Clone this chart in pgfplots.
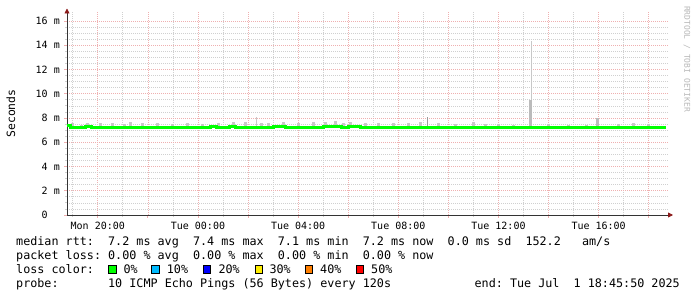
\documentclass[border=0pt]{standalone}
\usepackage{fontspec}
\setmainfont{DejaVu Sans Mono}
\setmonofont{DejaVu Sans Mono}
\usepackage{pgfplots}
\pgfplotsset{compat=1.18}
\usetikzlibrary{arrows.meta}
\definecolor{mgrid}{HTML}{EFB0B0}
\definecolor{ngrid}{HTML}{D0D0D0}
\definecolor{smoke}{HTML}{C8C8C8}
\definecolor{smokem}{HTML}{BBBBBB}
\definecolor{smoked}{HTML}{9A9A9A}
\definecolor{rttgreen}{HTML}{00FF00}
\definecolor{arrowred}{HTML}{8B1A1A}
\definecolor{lossA}{HTML}{00FF00}
\definecolor{lossB}{HTML}{00BBFF}
\definecolor{lossC}{HTML}{0000FF}
\definecolor{lossD}{HTML}{FFEE00}
\definecolor{lossE}{HTML}{FF7F00}
\definecolor{lossF}{HTML}{FF0000}
\newcommand\legfont{\ttfamily\fontsize{11.75}{14}\selectfont}
\newcommand\axfont{\ttfamily\fontsize{10}{12}\selectfont}
\pgfplotsset{smokebar/.style 2 args={draw=none, mark=none, forget plot,
  error bars/.cd, y dir=plus, y explicit, error mark=none,
  error bar style={draw=#1, line width=#2, solid}}}
\begin{document}
\begin{tikzpicture}
\useasboundingbox (0,0) rectangle (697pt,297pt);
\begin{axis}[
  at={(67pt,82pt)}, anchor=south west,
  scale only axis, width=601pt, height=202.5pt,
  xmin=18.77, xmax=42.77, ymin=0, ymax=16.7,
  axis lines=left,
  axis line style={draw=black!80, line width=0.8pt},
  x axis line style={-{Triangle[length=5pt,width=5pt,color=arrowred]}, shorten >=-5pt},
  y axis line style={-{Triangle[length=5pt,width=5pt,color=arrowred]}, shorten >=-4pt},
  xtick={18,20,...,42},
  xticklabels={,Mon 20:00,,Tue 00:00,,Tue 04:00,,Tue 08:00,,Tue 12:00,,Tue 16:00,},
  minor x tick num=1,
  ytick={0,2,...,16},
  yticklabels={0\phantom{\ m},2 m,4 m,6 m,8 m,10 m,12 m,14 m,16 m},
  minor y tick num=3,
  grid=both,
  major grid style={draw=mgrid, dash pattern=on 1pt off 1pt, line width=0.7pt},
  minor grid style={draw=ngrid, dash pattern=on 1pt off 1pt, line width=0.7pt},
  tick align=outside,
  major tick length=3pt, minor tick length=2pt,
  tick style={line width=0.8pt},
  major tick style={draw=mgrid},
  minor tick style={draw=ngrid},
  tick label style={font=\axfont, inner sep=0pt},
  xticklabel style={yshift=-4pt},
  yticklabel style={xshift=-4pt},
  clip=false,
]
% smoke (light)
\addplot[smokebar={smoke}{3pt}]
coordinates {
(19.00,7.2) +- (0,0.35)
(19.35,7.2) +- (0,0.25)
(19.60,7.2) +- (0,0.40)
(20.10,7.2) +- (0,0.35)
(20.60,7.2) +- (0,0.35)
(21.05,7.2) +- (0,0.30)
(21.30,7.2) +- (0,0.45)
(21.80,7.2) +- (0,0.35)
(22.40,7.2) +- (0,0.40)
(23.00,7.2) +- (0,0.30)
(23.60,7.2) +- (0,0.35)
(24.20,7.2) +- (0,0.30)
(24.80,7.2) +- (0,0.40)
(25.40,7.2) +- (0,0.45)
(25.90,7.2) +- (0,0.50)
(26.55,7.2) +- (0,0.35)
(26.80,7.2) +- (0,0.40)
(27.40,7.2) +- (0,0.45)
(28.00,7.2) +- (0,0.40)
(28.60,7.2) +- (0,0.50)
(29.10,7.2) +- (0,0.45)
(29.50,7.2) +- (0,0.55)
(29.80,7.2) +- (0,0.40)
(30.10,7.2) +- (0,0.45)
(30.70,7.2) +- (0,0.40)
(31.20,7.2) +- (0,0.35)
(31.80,7.2) +- (0,0.40)
(32.40,7.2) +- (0,0.35)
(32.90,7.2) +- (0,0.45)
(33.60,7.2) +- (0,0.35)
(34.30,7.2) +- (0,0.30)
(35.00,7.2) +- (0,0.45)
(35.50,7.2) +- (0,0.30)
(36.00,7.2) +- (0,0.30)
(36.60,7.2) +- (0,0.25)
(38.00,7.2) +- (0,0.30)
(38.80,7.2) +- (0,0.25)
(39.50,7.2) +- (0,0.25)
(40.80,7.2) +- (0,0.30)
(41.40,7.2) +- (0,0.35)
(42.00,7.2) +- (0,0.30)
};
% thin tall spikes
\addplot[smokebar={smoke}{1pt}]
coordinates {
(26.33,7.2) +- (0,0.85)
(37.32,7.2) +- (0,7.15)
};
% medium spikes
\addplot[smokebar={smokem}{3pt}]
coordinates {
(37.26,7.2) +- (0,2.25)
(39.97,7.2) +- (0,0.77)
};
\addplot[smokebar={smoked}{1.2pt}]
coordinates {
(33.17,7.2) +- (0,0.90)
};
% median rtt
\addplot[draw=rttgreen, line width=3pt, mark=none, const plot]
coordinates {
(18.77,7.35) (18.90,7.18) (19.00,7.20) (19.25,7.22) (19.50,7.28) (19.75,7.25)
(20.00,7.20) (20.25,7.22) (20.50,7.18) (20.75,7.22) (21.00,7.20) (21.25,7.25)
(21.50,7.20) (21.75,7.18) (22.00,7.22) (22.25,7.25) (22.50,7.20) (22.75,7.18)
(23.00,7.20) (23.25,7.22) (23.50,7.20) (23.75,7.18) (24.00,7.20) (24.25,7.22)
(24.50,7.26) (24.75,7.25) (25.00,7.22) (25.25,7.28) (25.50,7.22) (25.75,7.20)
(26.00,7.20) (26.25,7.18) (26.50,7.20) (26.75,7.22) (27.00,7.28) (27.25,7.30)
(27.50,7.25) (27.75,7.22) (28.00,7.20) (28.25,7.18) (28.50,7.20) (28.75,7.22)
(29.00,7.28) (29.25,7.30) (29.50,7.28) (29.75,7.25) (30.00,7.30) (30.25,7.27)
(30.50,7.22) (30.75,7.20) (31.00,7.18) (31.25,7.20) (31.50,7.20) (31.75,7.22)
(32.00,7.20) (32.25,7.18) (32.50,7.20) (32.75,7.24) (33.00,7.25) (33.25,7.22)
(33.50,7.18) (33.75,7.20) (34.00,7.18) (34.25,7.20) (34.50,7.19) (34.75,7.20)
(35.00,7.20) (35.25,7.22) (35.50,7.19) (35.75,7.20) (36.00,7.20) (36.25,7.19)
(36.50,7.20) (36.75,7.20) (37.00,7.19) (37.25,7.20) (37.50,7.20) (37.75,7.18)
(38.00,7.20) (38.25,7.20) (38.50,7.19) (38.75,7.20) (39.00,7.20) (39.25,7.19)
(39.50,7.20) (39.75,7.20) (40.00,7.19) (40.25,7.20) (40.50,7.20) (40.75,7.18)
(41.00,7.20) (41.25,7.20) (41.50,7.19) (41.75,7.20) (42.00,7.20) (42.25,7.19)
(42.50,7.20) (42.70,7.20)
};
\end{axis}
% axis title and watermark
\node[rotate=90, inner sep=0pt, font=\ttfamily\fontsize{11.4}{13}\selectfont] at (11pt,183.5pt) {Seconds};
\node[rotate=-90, inner sep=0pt, text=black!28, font=\ttfamily\fontsize{8}{10}\selectfont] at (687pt,238pt) {RRDTOOL / TOBI OETIKER};
% legend
\node[anchor=base west, inner sep=0pt, font=\legfont] at (16pt,51pt)
  {median rtt:\ \ 7.2 ms avg\ \ 7.4 ms max\ \ 7.1 ms min\ \ 7.2 ms now\ \ 0.0 ms sd\ \ 152.2\ \ \ am/s};
\node[anchor=base west, inner sep=0pt, font=\legfont] at (16pt,37.5pt)
  {packet loss: 0.00 \% avg\ \ 0.00 \% max\ \ 0.00 \% min\ \ 0.00 \% now};
\node[anchor=base west, inner sep=0pt, font=\legfont] at (16pt,23.5pt) {loss color:};
\draw[fill=lossA, draw=black, line width=0.8pt] (108.7pt,23.7pt) rectangle ++(7.5pt,8pt);
\node[anchor=base west, inner sep=0pt, font=\legfont] at (123.3pt,23.5pt) {0\%};
\draw[fill=lossB, draw=black, line width=0.8pt] (151.7pt,23.7pt) rectangle ++(7.5pt,8pt);
\node[anchor=base west, inner sep=0pt, font=\legfont] at (166.7pt,23.5pt) {10\%};
\draw[fill=lossC, draw=black, line width=0.8pt] (203.3pt,23.7pt) rectangle ++(7.5pt,8pt);
\node[anchor=base west, inner sep=0pt, font=\legfont] at (218.3pt,23.5pt) {20\%};
\draw[fill=lossD, draw=black, line width=0.8pt] (255pt,23.7pt) rectangle ++(7.5pt,8pt);
\node[anchor=base west, inner sep=0pt, font=\legfont] at (269.3pt,23.5pt) {30\%};
\draw[fill=lossE, draw=black, line width=0.8pt] (305pt,23.7pt) rectangle ++(7.5pt,8pt);
\node[anchor=base west, inner sep=0pt, font=\legfont] at (320pt,23.5pt) {40\%};
\draw[fill=lossF, draw=black, line width=0.8pt] (356pt,23.7pt) rectangle ++(7.5pt,8pt);
\node[anchor=base west, inner sep=0pt, font=\legfont] at (371pt,23.5pt) {50\%};
\node[anchor=base west, inner sep=0pt, font=\legfont] at (16pt,9.5pt)
  {probe:\ \ \ \ \ \ \ 10 ICMP Echo Pings (56 Bytes) every 120s};
\node[anchor=base east, inner sep=0pt, font=\legfont] at (680pt,9.5pt)
  {end: Tue Jul\ \ 1 18:45:50 2025};
\end{tikzpicture}
\end{document}
